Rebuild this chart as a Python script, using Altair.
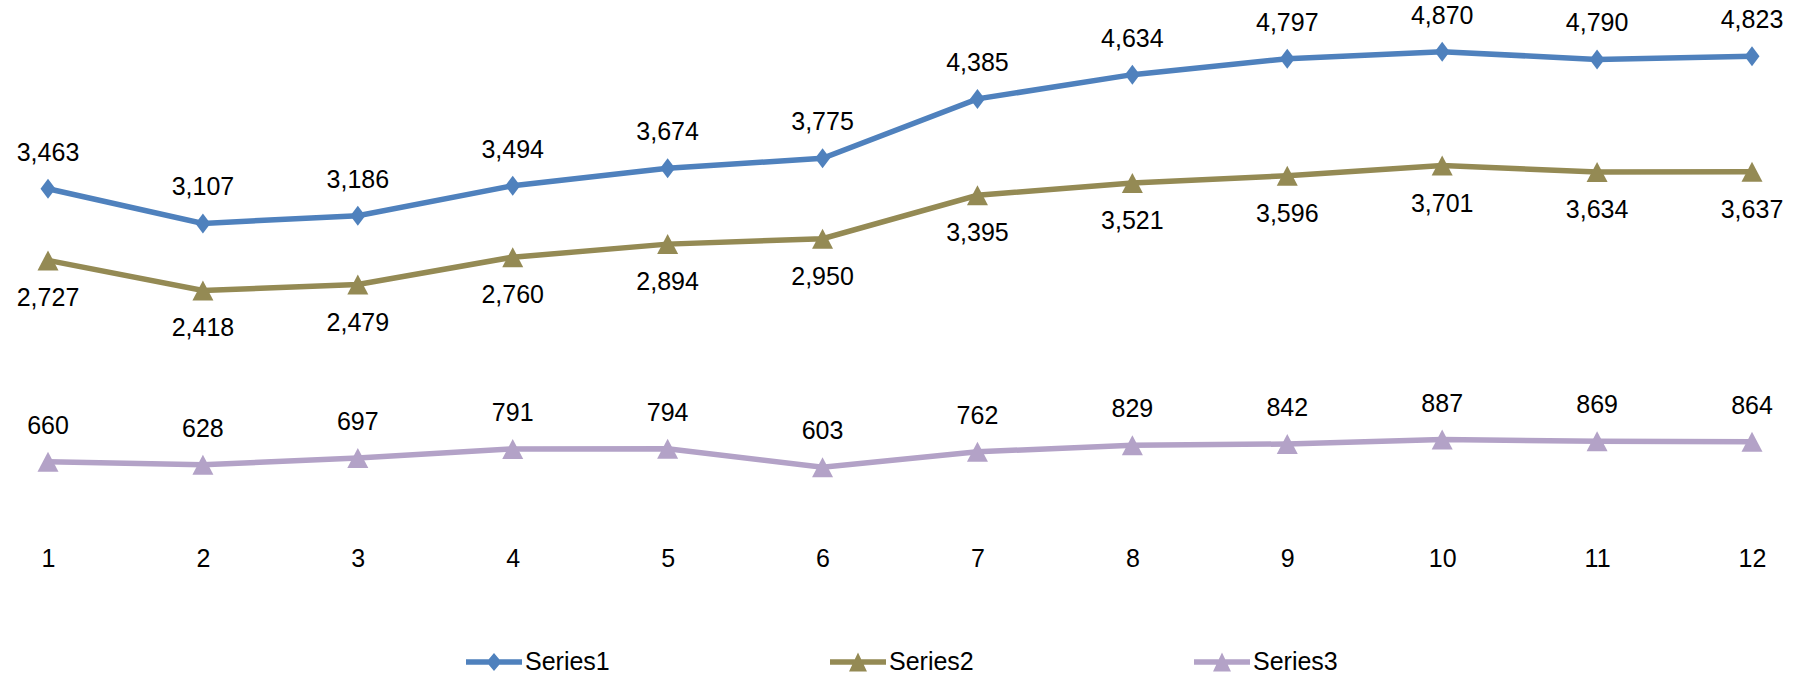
import altair as alt
import pandas as pd

# Monthly values for the three series
months = list(range(1, 13))
series1 = [3463, 3107, 3186, 3494, 3674, 3775, 4385, 4634, 4797, 4870, 4790, 4823]
series2 = [2727, 2418, 2479, 2760, 2894, 2950, 3395, 3521, 3596, 3701, 3634, 3637]
series3 = [660, 628, 697, 791, 794, 603, 762, 829, 842, 887, 869, 864]
names = ["Series1", "Series2", "Series3"]
colors = ["#4F81BD", "#948A54", "#B3A2C7"]

rows = []
for name, vals in zip(names, [series1, series2, series3]):
    for m, v in zip(months, vals):
        rows.append({"month": m, "value": v, "series": name})
df = pd.DataFrame(rows)

FONT = "Liberation Sans"
FS = 25

# Marker outlines (custom symbol paths, unit scaled by sqrt(size)/2)
DIAMOND = "M0,-1L0.75,0L0,1L-0.75,0Z"
TRIANGLE = "M0,-1L1.05,1L-1.05,1Z"
# Legend swatches: a line segment with the marker on top
LEG_DIAMOND = "M-1,-0.1L1,-0.1L1,0.1L-1,0.1Z M0,-0.32L0.27,0L0,0.32L-0.27,0Z"
LEG_TRIANGLE = "M-1,-0.1L1,-0.1L1,0.1L-1,0.1Z M0,-0.34L0.32,0.34L-0.32,0.34Z"

x_enc = alt.X(
    "month:Q",
    scale=alt.Scale(domain=[1, 12], nice=False, zero=False),
    axis=alt.Axis(
        values=months, format="d", title=None, grid=False, domain=False,
        ticks=False, tickSize=0, labelPadding=20, labelFontSize=FS,
        labelFont=FONT, labelColor="black", labelFlush=False,
    ),
)
y_enc = alt.Y("value:Q", scale=alt.Scale(domain=[0, 5000], nice=False), axis=None)


def color_scale():
    return alt.Scale(domain=names, range=colors)


base = alt.Chart(df)

lines = base.mark_line(strokeWidth=5.5).encode(
    x=x_enc, y=y_enc,
    color=alt.Color("series:N", scale=color_scale(), legend=None),
)

points = base.mark_point(filled=True, opacity=1, size=400).encode(
    x=x_enc, y=y_enc,
    color=alt.Color("series:N", scale=color_scale(), legend=None),
    shape=alt.Shape("series:N", scale=alt.Scale(domain=names, range=[DIAMOND, TRIANGLE, TRIANGLE]), legend=None),
)

labels_above = base.transform_filter(
    "datum.series != 'Series2'"
).mark_text(baseline="middle", align="center", dy=-36, fontSize=FS, font=FONT, color="black").encode(
    x=x_enc, y=y_enc, text=alt.Text("value:Q", format=","),
)

labels_below = base.transform_filter(
    "datum.series == 'Series2'"
).mark_text(baseline="middle", align="center", dy=38, fontSize=FS, font=FONT, color="black").encode(
    x=x_enc, y=y_enc, text=alt.Text("value:Q", format=","),
)

legend = alt.Legend(
    orient="none", legendX=418, legendY=595, direction="horizontal", columns=3,
    title=None, labelFontSize=FS, labelFont=FONT, labelColor="black",
    symbolSize=3136, symbolStrokeWidth=0, symbolOpacity=1, labelOffset=3,
    columnPadding=220, padding=0,
)

legend_layer = base.transform_filter("false").mark_point(filled=True, opacity=1, size=3136).encode(
    color=alt.Color("series:N", scale=color_scale(), legend=legend),
    shape=alt.Shape("series:N", scale=alt.Scale(domain=names, range=[LEG_DIAMOND, LEG_TRIANGLE, LEG_TRIANGLE]), legend=legend),
)

chart = (
    alt.layer(lines, points, labels_above, labels_below, legend_layer)
    .resolve_scale(shape="independent", color="independent")
    .properties(
        width=1704, height=487,
        autosize=alt.AutoSizeParams(type="none"),
        padding={"left": 48, "top": 39, "right": 52, "bottom": 150},
        background="white",
    )
    .configure_view(stroke=None)
)

chart.save("out.html", embed_options={"renderer": "svg", "actions": False})
